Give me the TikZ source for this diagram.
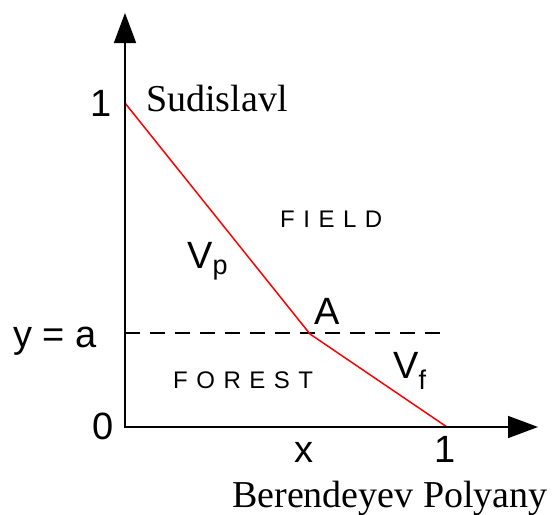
\documentclass[tikz,border=0pt]{standalone}
\usepackage{fontspec}
\setmainfont{Liberation Sans}
\newfontfamily\serifnames{Liberation Serif}
\usetikzlibrary{arrows.meta}
\newcommand{\bigsans}{\fontsize{38}{40}\selectfont}
\newcommand{\smallsans}{\fontsize{24}{26}\selectfont}
\newcommand{\subsans}{\fontsize{27}{28}\selectfont}
\newcommand{\townfont}{\serifnames\fontsize{38}{40}\selectfont}
\newcommand{\spc}{\hspace{8.5pt}}
\begin{document}
\begin{tikzpicture}[x=1pt,y=-1pt,
  axis/.style={line width=1.6pt,-{Triangle[length=30pt,width=22pt]}},
  path/.style={red,line width=1.5pt,line join=miter},
  level/.style={black,line width=1.3pt,dash pattern=on 15pt off 10pt},
  lab/.style={inner sep=0pt,font=\bigsans},
  region/.style={inner sep=0pt,font=\smallsans},
  town/.style={inner sep=0pt,font=\townfont}]
\useasboundingbox (0,0) rectangle (556,514);
\coordinate (O) at (125,427);
\coordinate (ytop) at (125,13);
\coordinate (xend) at (538,427);
\coordinate (S) at (125,103);
\coordinate (A) at (310,334);
\coordinate (B) at (447,427);
\coordinate (dl) at (125,333);
\coordinate (dr) at (444,333);
\draw[level] (dl) -- (dr);
\draw[path] (S) -- (A) -- (B);
\draw[axis] (O) -- (ytop);
\draw[axis] ([xshift=-0.8pt]O) -- (xend);
\node[lab,anchor=base] (one) at (101,116) {1};
\node[town,anchor=base west] (sud) at (146,111) {Sudislavl};
\node[lab,anchor=base] (ya) at (55,347) {y = a};
\node[lab,anchor=base] (zero) at (103,439) {0};
\node[lab,anchor=base] (xl) at (304,462) {x};
\node[lab,anchor=base] (onex) at (445,462) {1};
\node[lab,anchor=base] (Al) at (327,324) {A};
\node[lab,anchor=base west] (vp) at (187,268) {V\raisebox{-6pt}{\subsans p}};
\node[lab,anchor=base west] (vf) at (393,378) {V\raisebox{-11pt}{\subsans f}};
\node[region,anchor=base west] (field) at (280,227) {F\spc I\spc E\spc L\spc D};
\node[region,anchor=base west] (forest) at (173,388) {F\spc O\spc R\spc E\spc S\spc T};
\node[town,anchor=base west] (ber) at (232,507) {Berendeyev Polyany};
\end{tikzpicture}
\end{document}
